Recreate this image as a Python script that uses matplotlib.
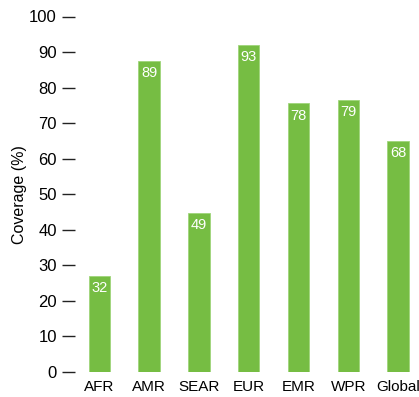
import matplotlib
matplotlib.use("Agg")
import matplotlib.pyplot as plt
from matplotlib import font_manager

regions = ["AFR", "AMR", "SEAR", "EUR", "EMR", "WPR", "Global"]
bar_heights = [27, 87.6, 44.7, 92, 75.6, 76.6, 65]
bar_labels = ["32", "89", "49", "93", "78", "79", "68"]
yticks = [0, 10, 20, 30, 40, 50, 60, 70, 80, 90, 100]

names = {f.name for f in font_manager.fontManager.ttflist}
fam = "Liberation Sans Narrow" if "Liberation Sans Narrow" in names else "Liberation Sans"
plt.rcParams["font.family"] = [fam, "DejaVu Sans"]

W, H = 419, 397
fig = plt.figure(figsize=(W / 100, H / 100), dpi=100)
ax = fig.add_axes([75 / W, (H - 372) / H, (419 - 75) / W, (372 - 16.5) / H])

green = "#76BD43"
x = list(range(len(regions)))
ax.bar(x, bar_heights, width=0.43, color=green, edgecolor="#9fd57a", linewidth=0.6)
for xi, h, lab in zip(x, bar_heights, bar_labels):
    ax.text(xi, h - 1.5, lab, ha="center", va="top", color="white", fontsize=10.5)

ax.set_xlim(-0.49, 6.42)
ax.set_ylim(0, 100)
ax.set_yticks(yticks)
ax.set_yticklabels([str(v) for v in yticks], fontsize=12)
ax.set_xticks(x)
ax.set_xticklabels(regions, fontsize=11)
ax.tick_params(axis="y", length=9.5, width=1, pad=3.5, color="#222222")
ax.tick_params(axis="x", length=0, pad=6)
for s in ax.spines.values():
    s.set_visible(False)
ax.set_ylabel("Coverage (%)", fontsize=11.5)
ax.yaxis.set_label_coords(-0.14, 0.5)

fig.savefig("out.png", dpi=100)
